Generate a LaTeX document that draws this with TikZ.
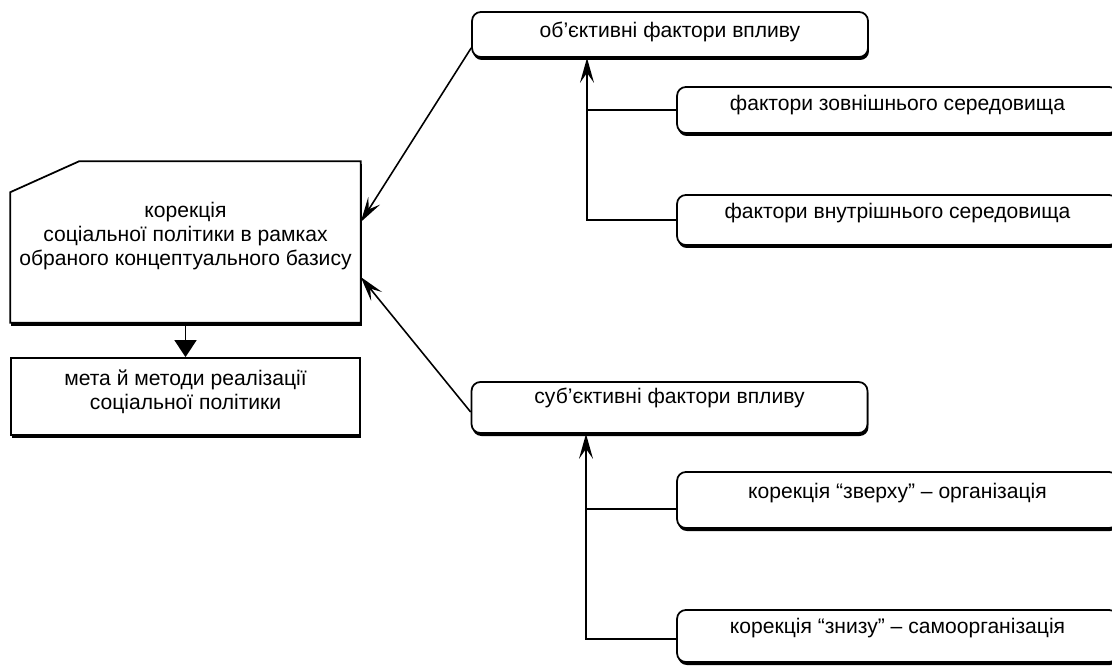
\documentclass[tikz,border=0pt]{standalone}
\usepackage{fontspec}
\setmainfont{Liberation Sans}
\usetikzlibrary{arrows.meta,shadows,backgrounds}
\tikzset{
  shade box/.style = {draw, line width=1pt, fill=white,
                   drop shadow={shadow xshift=0.02cm, shadow yshift=-0.06cm,
                                opacity=1, fill=black}},
  basic/.style  = {shade box, align=center, inner sep=0pt,
                   font=\fontsize{12}{13.8}\selectfont},
  main/.style   = {rectangle, align=center, inner sep=0pt,
                   font=\fontsize{12}{13.8}\selectfont,
                   minimum width=6.98cm, minimum height=3.2cm},
  aim/.style    = {basic, rectangle, minimum width=6.98cm, minimum height=1.54cm},
  group/.style  = {basic, rectangle, rounded corners=5pt, minimum width=7.92cm},
  factor/.style = {basic, rectangle, rounded corners=5pt, minimum width=8.82cm},
  lift/.style   = {text depth=#1}
}

\begin{document}
\begin{tikzpicture}[x=0.02cm, y=-0.02cm, line width=0.9pt,
  >={Stealth[length=0.5cm, width=0.28cm, inset=0.2cm]}]
  \useasboundingbox (0,0) rectangle (1112,666);

  % left column
  \node[main, lift=9.3pt] (korr) at (185.5,242)
    {корекція\\соціальної політики в рамках\\обраного концептуального базису};
  \begin{scope}[on background layer]
    \draw[shade box] (korr.south west) -- ([yshift=-0.62cm]korr.north west)
      -- ([xshift=1.38cm]korr.north west) -- (korr.north east)
      -- (korr.south east) -- cycle;
  \end{scope}
  \node[aim, lift=7.6pt] (meta) at (185.5,396.5)
    {мета й методи реалізації\\соціальної політики};

  % the two groups of factors
  \node[group, minimum height=0.9cm, lift=5.3pt] (obj) at (670,34.5) {об’єктивні фактори впливу};
  \node[group, minimum height=1.02cm, lift=13.8pt] (subj) at (669.5,407.5) {суб’єктивні фактори впливу};

  % factors of each group
  \node[factor, minimum height=0.92cm, lift=8.2pt] (ext) at (897.5,110) {фактори зовнішнього середовища};
  \node[factor, minimum height=1.0cm, lift=10.4pt] (int) at (897.5,220) {фактори внутрішнього середовища};
  \node[factor, minimum height=1.12cm, lift=10.4pt] (top) at (897.5,500) {корекція “зверху” – організація};
  \node[factor, minimum height=1.04cm, lift=11.5pt] (bot) at (897.5,636) {корекція “знизу” – самоорганізація};

  % buses on the left of the factors
  \coordinate (objbus) at (587,0);
  \coordinate (subbus) at (586,0);
  \coordinate (topin) at ([yshift=-0.18cm]top.west);
  \coordinate (botin) at ([yshift=-0.06cm]bot.west);

  \draw[->] (int.west) -| (objbus |- obj.south);
  \draw (ext.west) -- (ext.west -| objbus);
  \draw[->] (botin) -| (subbus |- subj.south);
  \draw (topin) -- (topin -| subbus);

  % groups into the correction
  \draw[->] ([yshift=-0.27cm]obj.west) -- ([yshift=0.4cm]korr.east);
  \draw[->] ([yshift=-0.09cm]subj.west) -- ([yshift=-0.7cm]korr.east);
  \draw[-{Triangle[length=0.34cm, width=0.44cm]}] (korr.south) -- (meta.north);
\end{tikzpicture}
\end{document}
